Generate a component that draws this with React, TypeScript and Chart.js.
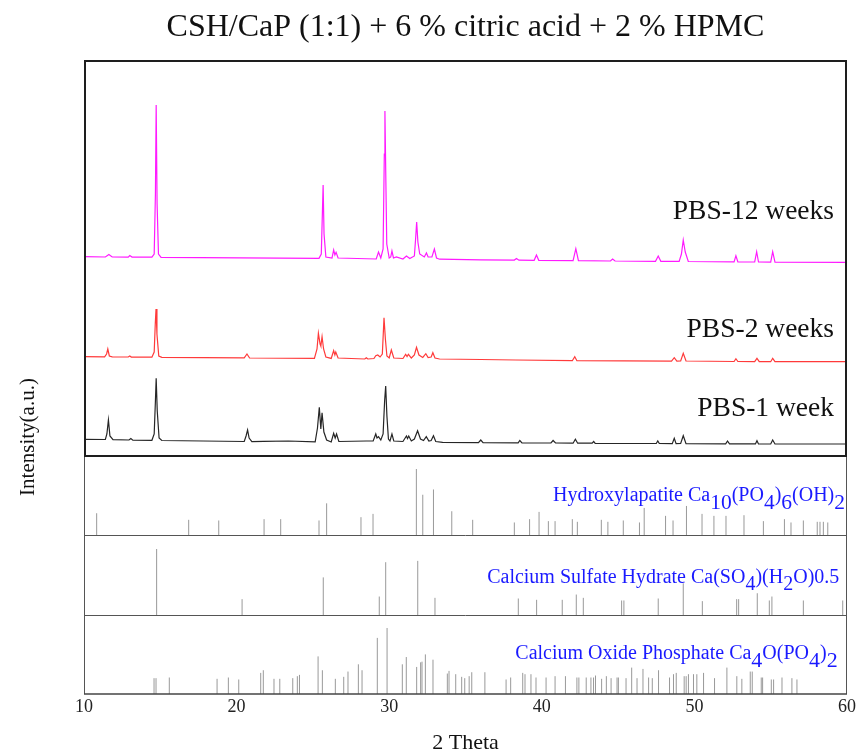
import React, { useEffect, useRef } from "react";
import { Chart, registerables } from "chart.js";
Chart.register(...registerables);

// ---------- text ----------
const TITLE = "CSH/CaP (1:1) + 6 % citric acid + 2 % HPMC";
const X_TITLE = "2 Theta";
const Y_TITLE = "Intensity(a.u.)";
const SERIES_LABELS = ["PBS-12 weeks", "PBS-2 weeks", "PBS-1 week"];
const X_MIN = 10;
const X_MAX = 60;
const X_STEP = 10;

// ---------- measured XRD traces: [2theta, intensity (a.u.)] ----------
const pbs12: [number, number][] = [
  [10, 17.3], [11.4, 17], [11.63, 19.5], [11.85, 17], [12.9, 16.9], [13.0, 18.5], [13.15, 16.9],
  [14.45, 16.8], [14.6, 20], [14.68, 80], [14.73, 169], [14.79, 70], [14.88, 20], [15.05, 16.6],
  [20.2, 16.1], [25.4, 15.6], [25.55, 20], [25.62, 60], [25.67, 89], [25.73, 40], [25.85, 17],
  [26.25, 16], [26.36, 24], [26.44, 19], [26.52, 21.7], [26.65, 16], [29.15, 15], [29.3, 22],
  [29.45, 16], [29.6, 25], [29.68, 120], [29.72, 163], [29.77, 105], [29.84, 30], [30.0, 16],
  [30.1, 17], [30.18, 23], [30.28, 16], [30.47, 17], [30.9, 15], [31.13, 18], [31.35, 15.5],
  [31.65, 18], [31.73, 35], [31.8, 52], [31.88, 32], [32.0, 20], [32.3, 17], [32.44, 21],
  [32.55, 17], [32.8, 17], [32.96, 25], [33.1, 16], [33.3, 14.8], [36.0, 14.2], [38.2, 13.9],
  [38.34, 15.5], [38.5, 13.8], [39.5, 13.7], [39.65, 19], [39.8, 13.7], [42.05, 13.4],
  [42.23, 25.3], [42.4, 13.3], [44.5, 13], [44.64, 15], [44.8, 13], [47.45, 12.7], [47.63, 18],
  [47.8, 12.7], [49.0, 12.6], [49.15, 20], [49.27, 34], [49.4, 22], [49.6, 12.5], [52.6, 12.1],
  [52.72, 18.3], [52.85, 12.1], [53.95, 12], [54.08, 22.3], [54.2, 12], [55.0, 11.9],
  [55.13, 22.3], [55.28, 11.9], [60, 11.7],
];

const pbs2: [number, number][] = [
  [10, 17.3], [11.35, 17.2], [11.48, 20], [11.56, 25], [11.66, 18], [11.85, 17.1], [12.9, 17],
  [13.0, 18], [13.1, 16.9], [14.45, 16.8], [14.6, 22], [14.67, 50], [14.72, 65], [14.78, 40],
  [14.9, 18], [15.1, 16.7], [20.5, 16.1], [20.68, 20], [20.85, 16], [25.1, 15.6], [25.27, 25],
  [25.36, 40.7], [25.47, 30], [25.52, 28], [25.6, 37.3], [25.7, 25], [25.85, 17], [26.2, 15.6],
  [26.36, 23.3], [26.44, 19], [26.5, 22], [26.65, 16], [28.4, 15], [28.5, 16.3], [28.6, 15],
  [29.0, 15.5], [29.12, 18.3], [29.25, 19], [29.4, 17], [29.55, 20], [29.66, 56.3], [29.75, 35],
  [29.85, 18], [30.0, 16], [30.14, 24], [30.3, 16], [30.9, 15.5], [31.08, 19.7], [31.17, 17.5],
  [31.26, 19.7], [31.45, 16], [31.65, 19], [31.79, 26.7], [31.95, 19], [32.2, 16.5], [32.4, 20.3],
  [32.55, 16.5], [32.75, 17], [32.86, 21.3], [33.0, 16], [33.3, 15], [36.0, 14.5], [38.3, 14],
  [42.0, 13.3], [42.16, 17.3], [42.3, 13.3], [48.5, 12.8], [48.68, 16.3], [48.85, 12.8],
  [49.1, 13], [49.27, 20.7], [49.45, 13], [52.6, 12.5], [52.72, 15.3], [52.85, 12.5],
  [53.95, 12.4], [54.1, 15.7], [54.25, 12.4], [55.0, 12.3], [55.13, 15.7], [55.28, 12.3],
  [60, 12.3],
];

const pbs1: [number, number][] = [
  [10, 16.7], [11.4, 16.5], [11.5, 22], [11.6, 36], [11.7, 20], [11.9, 16.3], [12.95, 16],
  [13.07, 17.5], [13.2, 15.9], [14.45, 15.7], [14.6, 22], [14.68, 55], [14.73, 77.7], [14.8, 45],
  [14.92, 18], [15.1, 15.5], [20.5, 14.5], [20.62, 20], [20.72, 26], [20.82, 18], [21.0, 14.3],
  [21.77, 14.7], [23.4, 15], [25.15, 14.2], [25.3, 28], [25.42, 48.7], [25.52, 27], [25.6, 43.3],
  [25.72, 24], [25.9, 16], [26.2, 14], [26.36, 22.7], [26.46, 18], [26.55, 22], [26.7, 14.5],
  [28.5, 15], [28.95, 15], [29.12, 22], [29.2, 18], [29.3, 19.3], [29.45, 16], [29.6, 22],
  [29.7, 55], [29.77, 70], [29.85, 40], [29.95, 17], [30.05, 15], [30.18, 22], [30.3, 15],
  [30.9, 14.5], [31.13, 20], [31.2, 17.5], [31.28, 20], [31.45, 15], [31.65, 17], [31.86, 25.3],
  [32.05, 17], [32.25, 15.5], [32.43, 19.3], [32.6, 15], [32.75, 15.5], [32.9, 20.3],
  [33.05, 14.5], [33.5, 13.6], [35.85, 13.4], [36.0, 16], [36.15, 13.4], [38.45, 13.2],
  [38.56, 15.5], [38.7, 13.2], [40.6, 13], [40.74, 15.5], [40.9, 13], [42.05, 12.8], [42.2, 16.7],
  [42.35, 12.8], [43.3, 12.8], [43.4, 14.5], [43.5, 12.7], [47.5, 12.5], [47.6, 15], [47.7, 12.5],
  [48.55, 12.4], [48.68, 17.7], [48.8, 12.4], [49.1, 12.6], [49.27, 20.3], [49.45, 12.4],
  [52.05, 12.2], [52.17, 15], [52.3, 12.2], [54.0, 12.1], [54.1, 15.3], [54.2, 12.1], [55.0, 12],
  [55.13, 16], [55.28, 12], [60, 12],
];

// ---------- reference patterns: [2theta, relative intensity %] ----------
const hydroxylapatite: [number, number][] = [
  [10.83, 33], [16.86, 23], [18.83, 22], [21.8, 24], [22.89, 24], [25.4, 22], [25.9, 48],
  [28.15, 27], [28.94, 32], [31.78, 100], [32.2, 61], [32.9, 69], [34.1, 36], [35.47, 23],
  [38.2, 19], [39.2, 24], [39.82, 35], [40.43, 21], [40.87, 21], [42.0, 24], [42.33, 20],
  [43.9, 23], [44.33, 20], [45.34, 22], [46.4, 19], [46.71, 41], [48.11, 29], [48.6, 22],
  [49.48, 44], [50.5, 32], [51.28, 29], [52.07, 29], [53.25, 30], [54.52, 21], [55.9, 24],
  [56.33, 19], [57.14, 22], [58.05, 20], [58.23, 20], [58.45, 20], [58.74, 19],
];

const calciumSulfate: [number, number][] = [
  [14.76, 100], [20.36, 24], [25.68, 57], [29.35, 28], [29.77, 80], [31.87, 82], [33.0, 26],
  [38.46, 25], [39.66, 23], [41.34, 23], [42.26, 31], [42.72, 26], [45.23, 22], [45.38, 22],
  [47.63, 25], [49.27, 48], [50.52, 21], [52.77, 24], [52.9, 24], [54.12, 33], [54.91, 22],
  [55.08, 28], [57.14, 22], [59.72, 22],
];

const calciumOxidePhosphate: [number, number][] = [
  [14.59, 24], [14.72, 24], [15.59, 25], [18.72, 23], [19.46, 25], [20.14, 22], [21.58, 32],
  [21.75, 36], [22.45, 23], [22.83, 23], [23.68, 24], [23.98, 27], [24.12, 29], [25.34, 57],
  [25.62, 36], [26.47, 23], [27.02, 26], [27.3, 34], [27.98, 45], [28.22, 36], [29.22, 85],
  [29.86, 100], [30.86, 45], [31.12, 56], [31.8, 41], [32.06, 48], [32.15, 49], [32.37, 60],
  [32.87, 52], [33.81, 31], [33.92, 35], [34.36, 30], [34.75, 26], [34.95, 24], [35.24, 27],
  [35.41, 33], [36.27, 33], [37.66, 22], [37.96, 25], [38.75, 32], [38.9, 30], [39.29, 30],
  [39.62, 25], [40.28, 25], [40.87, 27], [41.55, 27], [42.3, 25], [42.43, 25], [42.91, 25],
  [43.22, 25], [43.39, 25], [43.52, 28], [43.92, 23], [44.23, 27], [44.54, 24], [44.93, 25],
  [45.02, 25], [45.52, 24], [45.89, 40], [46.24, 24], [46.63, 38], [47.0, 25], [47.24, 24],
  [47.65, 36], [48.37, 25], [48.63, 30], [48.81, 32], [49.33, 27], [49.46, 27], [49.61, 30],
  [49.94, 30], [50.16, 30], [50.6, 32], [51.32, 24], [52.13, 40], [52.78, 27], [53.11, 23],
  [53.66, 34], [53.79, 34], [54.38, 25], [54.47, 25], [55.04, 22], [55.19, 22], [55.74, 25],
  [56.39, 24], [56.72, 22],
];

// ---------- layout (vertical stacking of panels, in y-axis units) ----------
const Y_MAX = 634;
const PANEL_CAO = 0;
const PANEL_CASO4 = 79;
const PANEL_HAP = 159;
const PANEL_TOP = 238;
const STICK_SCALE = 0.66;
const OFFSETS = [182, 82, 0];
const COLORS = ["#ff1aff", "#ff3a3a", "#262626"];
const SERIF = '"Liberation Serif", "Times New Roman", serif';

type Seg = { t: string; sub?: boolean };

function drawRich(
  ctx: CanvasRenderingContext2D,
  segs: Seg[],
  xRight: number,
  yBase: number,
  size: number,
  subSize: number,
  subDy: number,
  color: string
) {
  const f = (s: number) => `${s}px ${SERIF}`;
  let w = 0;
  for (const s of segs) {
    ctx.font = f(s.sub ? subSize : size);
    w += ctx.measureText(s.t).width;
  }
  let x = xRight - w;
  ctx.fillStyle = color;
  ctx.textAlign = "left";
  ctx.textBaseline = "alphabetic";
  for (const s of segs) {
    ctx.font = f(s.sub ? subSize : size);
    ctx.fillText(s.t, x, yBase + (s.sub ? subDy : 0));
    x += ctx.measureText(s.t).width;
  }
}

const decorPlugin = {
  id: "decor",
  afterDatasetsDraw(chart: any) {
    const { ctx, chartArea } = chart;
    const y = chart.scales.y;
    const L = chartArea.left;
    const R = chartArea.right;
    const yp = (v: number) => y.getPixelForValue(v);
    ctx.save();
    // thin frame of stick panels
    ctx.strokeStyle = "#555";
    ctx.lineWidth = 1;
    ctx.beginPath();
    for (const v of [PANEL_CASO4, PANEL_HAP]) {
      ctx.moveTo(L, Math.round(yp(v)) + 0.5);
      ctx.lineTo(R, Math.round(yp(v)) + 0.5);
    }
    ctx.moveTo(L + 0.5, yp(PANEL_TOP));
    ctx.lineTo(L + 0.5, yp(0));
    ctx.moveTo(R - 0.5, yp(PANEL_TOP));
    ctx.lineTo(R - 0.5, yp(0));
    ctx.stroke();
    ctx.strokeStyle = "#444";
    ctx.lineWidth = 1.5;
    ctx.beginPath();
    ctx.moveTo(L, yp(0));
    ctx.lineTo(R, yp(0));
    ctx.stroke();
    // thick frame of top panel
    ctx.strokeStyle = "#1e1e1e";
    ctx.lineWidth = 2;
    ctx.strokeRect(L + 1, yp(Y_MAX) + 1, R - L - 2, yp(PANEL_TOP) - yp(Y_MAX) - 1);

    // series labels
    ctx.fillStyle = "#111";
    ctx.font = `27.5px ${SERIF}`;
    ctx.textAlign = "right";
    ctx.textBaseline = "alphabetic";
    const labelY = [219, 336.7, 415.7];
    SERIES_LABELS.forEach((t, i) => ctx.fillText(t, 834, labelY[i]));

    // phase labels
    const blue = "#1a1aff";
    drawRich(ctx, [
      { t: "Hydroxylapatite Ca" }, { t: "10", sub: true }, { t: "(PO" }, { t: "4", sub: true },
      { t: ")" }, { t: "6", sub: true }, { t: "(OH)" }, { t: "2", sub: true },
    ], 845, 500.7, 20, 21.5, 8, blue);
    drawRich(ctx, [
      { t: "Calcium Sulfate Hydrate Ca(SO" }, { t: "4", sub: true }, { t: ")(H" },
      { t: "2", sub: true }, { t: "O)0.5" },
    ], 839.3, 583.3, 20, 20, 7, blue);
    drawRich(ctx, [
      { t: "Calcium Oxide Phosphate Ca" }, { t: "4", sub: true }, { t: "O(PO" },
      { t: "4", sub: true }, { t: ")" }, { t: "2", sub: true },
    ], 837.7, 659.3, 20, 22, 7.5, blue);

    // title
    const cx = (L + R) / 2;
    ctx.fillStyle = "#111";
    ctx.textAlign = "center";
    ctx.font = `32px ${SERIF}`;
    ctx.fillText(TITLE, cx, 36);
    // x title
    ctx.font = `22px ${SERIF}`;
    ctx.fillText(X_TITLE, cx, 749);
    // y title
    ctx.translate(28, 437);
    ctx.rotate(-Math.PI / 2);
    ctx.font = `21px ${SERIF}`;
    ctx.textBaseline = "middle";
    ctx.fillText(Y_TITLE, 0, 0);
    ctx.restore();
  },
};

function stickPoints(pattern: [number, number][], base: number) {
  const pts: { x: number; y: number | null }[] = [];
  for (const [x, v] of pattern) {
    pts.push({ x, y: base });
    pts.push({ x, y: base + v * STICK_SCALE });
    pts.push({ x, y: null });
  }
  return pts;
}

export default function App() {
  const ref = useRef<HTMLCanvasElement | null>(null);
  useEffect(() => {
    if (!ref.current) return;
    const traces = [pbs12, pbs2, pbs1].map((s, i) => ({
      type: "line" as const,
      label: SERIES_LABELS[i],
      data: s.map(([x, v]) => ({ x, y: PANEL_TOP + OFFSETS[i] + v })),
      borderColor: COLORS[i],
      borderWidth: 1.2,
      pointRadius: 0,
      tension: 0,
    }));
    const sticks = [
      [hydroxylapatite, PANEL_HAP],
      [calciumSulfate, PANEL_CASO4],
      [calciumOxidePhosphate, PANEL_CAO],
    ].map(([p, b]) => ({
      type: "line" as const,
      label: "ref",
      data: stickPoints(p as [number, number][], b as number),
      borderColor: "#999999",
      borderWidth: 1,
      pointRadius: 0,
      spanGaps: false,
    }));
    const chart = new Chart(ref.current, {
      type: "line",
      data: { datasets: [...traces, ...sticks] as any },
      options: {
        animation: false,
        responsive: true,
        maintainAspectRatio: false,
        layout: { padding: { left: 84, right: 12, top: 60, bottom: 0 } },
        plugins: { legend: { display: false }, tooltip: { enabled: false }, title: { display: false } },
        scales: {
          x: {
            type: "linear",
            min: X_MIN,
            max: X_MAX,
            ticks: { stepSize: X_STEP, color: "#222", padding: 2, maxRotation: 0, font: { family: SERIF, size: 18 } },
            grid: { display: false, drawTicks: false },
            border: { display: false },
            afterFit: (s: any) => {
              s.height = 62;
              s.paddingLeft = 0;
              s.paddingRight = 0;
            },
          },
          y: { type: "linear", min: 0, max: Y_MAX, display: false },
        },
      },
      plugins: [decorPlugin],
    });
    return () => chart.destroy();
  }, []);
  return (
    <div style={{ position: "absolute", left: 0, top: 0, width: 859, height: 756 }}>
      <canvas ref={ref} />
    </div>
  );
}
